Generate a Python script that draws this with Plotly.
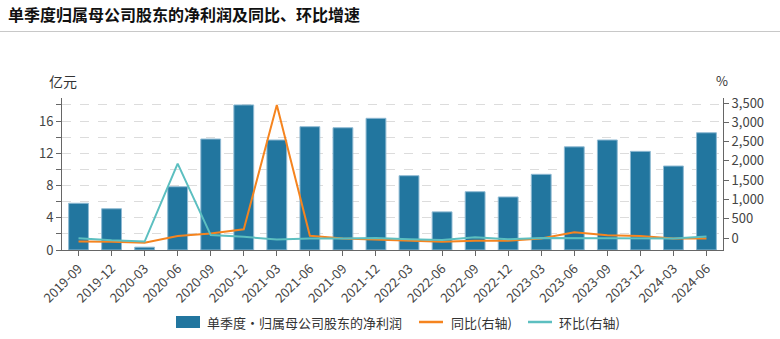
import plotly.graph_objects as go

# Quarterly net profit attributable to parent shareholders (亿元) and growth rates (%)
quarters = ["2019-09", "2019-12", "2020-03", "2020-06", "2020-09", "2020-12",
            "2021-03", "2021-06", "2021-09", "2021-12", "2022-03", "2022-06",
            "2022-09", "2022-12", "2023-03", "2023-06", "2023-09", "2023-12",
            "2024-03", "2024-06"]
net_profit = [5.8, 5.12, 0.35, 7.85, 13.77, 18.0,
              13.65, 15.3, 15.17, 16.34, 9.22, 4.73,
              7.23, 6.58, 9.39, 12.8, 13.65, 12.24,
              10.42, 14.55]
yoy = [-90, -95, -120, 50, 117, 225,
       3450, 60, -10, -35, -70, -100,
       -70, -70, -10, 148, 70, 52,
       -15, -15]
qoq = [-5, -60, -93, 1930, 75, 30,
       -40, -10, -10, 0, -30, -50,
       20, -30, 0, 0, -10, -10,
       -15, 40]

series_names = ["单季度·归属母公司股东的净利润", "同比(右轴)", "环比(右轴)"]

FONT = "Noto Sans CJK SC"
BAR = "#22769f"
ORANGE = "#f5841f"
TEAL = "#5cbfc0"

W, H = 780, 339
L, R, T, B = 62, 57, 98, 89
ph = H - T - B
pw = W - L - R


def px_x(px):
    return (px - L) / pw


def px_y(py):
    return (T + ph - py) / ph


fig = go.Figure()
fig.add_trace(go.Bar(
    x=quarters, y=net_profit, name=series_names[0],
    marker=dict(color=BAR, line=dict(color="#8fbad3", width=1)),
    yaxis="y", showlegend=False,
))
fig.add_trace(go.Scatter(
    x=quarters, y=yoy, name=series_names[1], mode="lines",
    line=dict(color=ORANGE, width=2), yaxis="y2", showlegend=False,
))
fig.add_trace(go.Scatter(
    x=quarters, y=qoq, name=series_names[2], mode="lines",
    line=dict(color=TEAL, width=2), yaxis="y2", showlegend=False,
))

left_vals = list(range(0, 19, 2))
left_text = [str(v) if v % 4 == 0 else "" for v in left_vals]
right_vals = list(range(0, 3501, 500))
right_text = [f"{v:,}" for v in right_vals]

axis_common = dict(
    showline=True, linecolor="#666", linewidth=1,
    ticks="outside", ticklen=5, tickcolor="#666",
    tickfont=dict(size=13, color="#444"),
    automargin=False,
)

fig.update_layout(
    width=W, height=H,
    margin=dict(l=L, r=R, t=T, b=B, autoexpand=False),
    paper_bgcolor="white", plot_bgcolor="white",
    font=dict(family=FONT, size=13, color="#333"),
    bargap=0.4,
    showlegend=False,
    xaxis=dict(
        type="category", tickangle=-45, showgrid=False,
        range=[-0.5, len(quarters) - 0.5], **axis_common,
    ),
    yaxis=dict(
        range=[0, 18.86], tickvals=left_vals, ticktext=left_text,
        showgrid=True, gridcolor="#dcdcdc", griddash="dash", gridwidth=1,
        zeroline=False, **axis_common,
    ),
    yaxis2=dict(
        overlaying="y", side="right", range=[-311, 3630],
        tickvals=right_vals, ticktext=right_text,
        showgrid=False, zeroline=False, **axis_common,
    ),
    title=dict(text="<b>单季度归属母公司股东的净利润及同比、环比增速</b>",
               x=8 / W, xanchor="left", y=1 - 15 / H, yanchor="middle",
               font=dict(size=16, color="#111", family=FONT)),
)

# separator under the title
fig.add_shape(type="line", xref="paper", yref="paper",
              x0=px_x(0), x1=px_x(W), y0=px_y(31.5), y1=px_y(31.5),
              line=dict(color="#c8c8c8", width=1))

# axis unit labels
fig.add_annotation(text="亿元", xref="paper", yref="paper",
                   x=px_x(47), xanchor="left", y=px_y(81), yanchor="middle",
                   showarrow=False, font=dict(size=14, color="#333"))
fig.add_annotation(text="%", xref="paper", yref="paper",
                   x=px_x(722), xanchor="center", y=px_y(80), yanchor="middle",
                   showarrow=False, font=dict(size=13, color="#333"))

# legend row along the bottom
ly = px_y(322)
fig.add_shape(type="rect", xref="paper", yref="paper",
              x0=px_x(176), x1=px_x(200), y0=px_y(328), y1=px_y(316),
              fillcolor=BAR, line=dict(width=0))
fig.add_shape(type="line", xref="paper", yref="paper",
              x0=px_x(419), x1=px_x(443), y0=ly, y1=ly,
              line=dict(color=ORANGE, width=2.5))
fig.add_shape(type="line", xref="paper", yref="paper",
              x0=px_x(528), x1=px_x(552), y0=ly, y1=ly,
              line=dict(color=TEAL, width=2.5))
for name, xpos in zip(series_names, [205, 449, 557]):
    fig.add_annotation(text=name, xref="paper", yref="paper",
                       x=px_x(xpos), xanchor="left", y=ly, yanchor="middle",
                       showarrow=False, font=dict(size=13, color="#333"))

fig.write_html("out.html")
